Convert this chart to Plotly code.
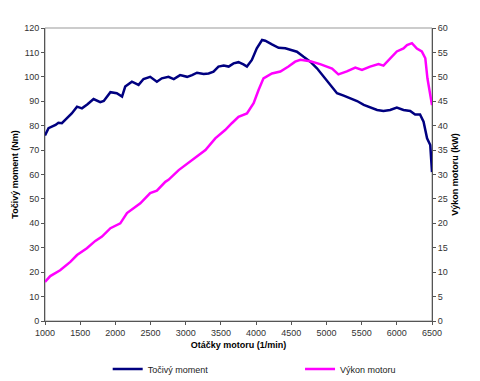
import plotly.graph_objects as go

rpm_torque = [1000, 1050, 1150, 1190, 1240, 1310, 1380, 1455, 1525, 1600, 1690, 1785, 1835, 1930, 2020,
              2095, 2140, 2235, 2330, 2400, 2495, 2590, 2660, 2755, 2830, 2920, 3020, 3090, 3160, 3255,
              3325, 3395, 3465, 3540, 3610, 3680, 3750, 3820, 3870, 3940, 4010, 4085, 4130, 4225, 4320,
              4415, 4485, 4580, 4675, 4770, 4865, 4960, 5055, 5150, 5245, 5340, 5435, 5530, 5620, 5720,
              5810, 5905, 6000, 6095, 6190, 6260, 6330, 6380, 6430, 6475, 6500]
torque = [76, 79, 80.3, 81.2, 81, 83, 85, 87.8, 87.1, 88.7, 90.9, 89.6, 90.1, 93.7, 93.3,
          91.9, 96, 98, 96.7, 99.1, 100, 98, 99.4, 100, 99.1, 100.7, 100, 100.7, 101.7, 101.2,
          101.4, 102.1, 104.2, 104.6, 104.2, 105.5, 106, 105.1, 104.2, 106.9, 111.7, 115.1, 114.8, 113.3, 111.9,
          111.7, 111, 110.3, 108.2, 106.2, 103.5, 100, 96.7, 93.3, 92.3, 91.2, 90.1, 88.5, 87.4, 86.4,
          86, 86.4, 87.4, 86.4, 86, 84.6, 84.6, 81.6, 74.8, 72.1, 61]

rpm_power = [1000, 1075, 1215, 1360, 1455, 1595, 1715, 1810, 1930, 2070, 2165, 2285, 2355, 2495, 2590,
             2710, 2755, 2900, 3090, 3280, 3420, 3560, 3655, 3750, 3870, 3965, 4035, 4105, 4225, 4345,
             4460, 4555, 4630, 4770, 4910, 5005, 5080, 5170, 5290, 5410, 5505, 5620, 5740, 5810, 5905,
             6000, 6095, 6145, 6215, 6285, 6355, 6405, 6435, 6465, 6500]
power = [8.0, 9.2, 10.4, 12.1, 13.5, 14.9, 16.4, 17.3, 19.0, 20.0, 22.1, 23.4, 24.1, 26.2, 26.7,
         28.5, 28.9, 30.9, 33.0, 35.0, 37.4, 39.1, 40.5, 41.8, 42.5, 44.6, 47.3, 49.7, 50.7, 51.1,
         52.1, 53.1, 53.5, 53.2, 52.6, 52.1, 51.7, 50.5, 51.1, 51.9, 51.4, 52.1, 52.6, 52.3, 53.8,
         55.2, 55.8, 56.5, 56.9, 55.8, 55.2, 53.8, 49.7, 47.0, 44.2]

FONT = "Liberation Sans, Arial, sans-serif"

fig = go.Figure()
fig.add_trace(go.Scatter(x=rpm_torque, y=torque, name="Točivý moment", mode="lines",
                         line=dict(color="#000080", width=2.5), legend="legend"))
fig.add_trace(go.Scatter(x=rpm_power, y=power, name="Výkon motoru", mode="lines",
                         line=dict(color="#FF00FF", width=2.5), yaxis="y2", legend="legend2"))

axis_common = dict(showgrid=False, zeroline=False, showline=True, linecolor="#555",
                   linewidth=1, ticks="outside", ticklen=3, tickcolor="#555", automargin=False,
                   tickfont=dict(family=FONT, size=9, color="#333"))

leg_common = dict(orientation="h", yanchor="middle", yref="paper", y=-0.164,
                  xanchor="left", font=dict(family=FONT, size=9, color="#222"),
                  itemwidth=30, bgcolor="rgba(0,0,0,0)")

fig.update_layout(
    width=480, height=381,
    margin=dict(l=37, r=56, t=20, b=68, autoexpand=False),
    paper_bgcolor="white", plot_bgcolor="white",
    font=dict(family=FONT, size=9, color="black"),
    xaxis=dict(range=[1000, 6500], dtick=500, **axis_common,
               title=dict(text="<b>Otáčky motoru (1/min)</b>", font=dict(family=FONT, size=9),
                          standoff=4)),
    yaxis=dict(range=[0, 120], dtick=10, **axis_common,
               title=dict(text="<b>Točivý moment (Nm)</b>", font=dict(family=FONT, size=9),
                          standoff=4)),
    yaxis2=dict(range=[0, 60], dtick=5, overlaying="y", side="right", **axis_common,
                title=dict(text="<b>Výkon motoru (kW)</b>", font=dict(family=FONT, size=9),
                           standoff=4)),
    legend=dict(x=0.162, **leg_common),
    legend2=dict(x=0.659, **leg_common),
    showlegend=True,
    shapes=[dict(type="rect", xref="paper", yref="paper", x0=0, y0=0, x1=1, y1=1,
                 line=dict(color="#999", width=1), layer="below")],
)

fig.write_html("out.html")
